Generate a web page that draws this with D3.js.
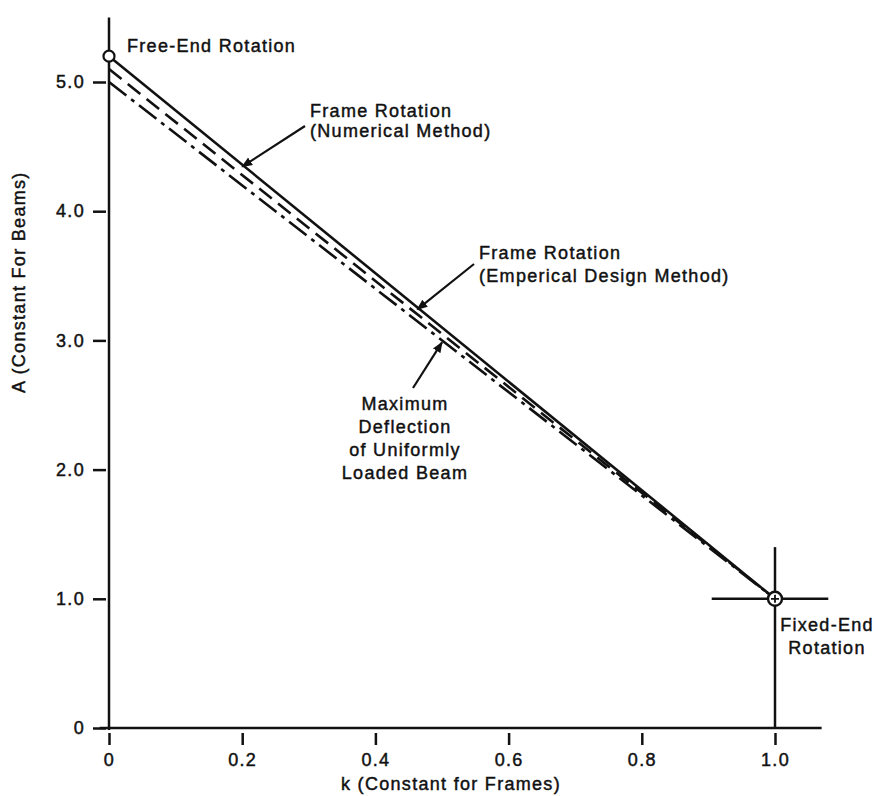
<!DOCTYPE html>
<html>
<head>
<meta charset="utf-8">
<script src="https://cdn.jsdelivr.net/npm/d3@7"></script>
<style>
  body { margin: 0; background: #fff; }
  svg text {
    font-family: "Liberation Sans", Arial, sans-serif;
    font-size: 18px;
    letter-spacing: 1.3px;
    fill: #111; stroke: #111; stroke-width: 0.45px;
  }
</style>
</head>
<body>
<svg id="chart" width="879" height="796"></svg>
<script>
// 刻度
const kTicks = [0, 0.2, 0.4, 0.6, 0.8, 1.0];
const kLabels = ["0", "0.2", "0.4", "0.6", "0.8", "1.0"];
const aTicks = [0, 1, 2, 3, 4, 5];
const aLabels = ["0", "1.0", "2.0", "3.0", "4.0", "5.0"];

// 三条直线: k = 0 与 k = 1 处的 A 值
const seriesK = [0, 1];
const numericalA = [5.2, 1.0];   // Frame Rotation (Numerical Method)
const empiricalA = [5.1, 1.0];   // Frame Rotation (Emperical Design Method)
const deflectionA = [5.0, 1.0];  // Maximum Deflection of Uniformly Loaded Beam

const freeEnd = { k: 0, a: 5.2 };
const fixedEnd = { k: 1.0, a: 1.0 };

const svg = d3.select("#chart");
const x = d3.scaleLinear().domain([0, 1]).range([109, 775]);
const y = d3.scaleLinear().domain([0, 5]).range([728, 82]);

const ink = "#111";

// 箭头
svg.append("defs").append("marker")
  .attr("id", "arrow")
  .attr("viewBox", "0 0 10 10")
  .attr("refX", 9).attr("refY", 5)
  .attr("markerWidth", 5).attr("markerHeight", 5)
  .attr("markerUnits", "strokeWidth")
  .attr("orient", "auto")
  .append("path")
  .attr("d", "M0,1 L10,5 L0,9 Z")
  .attr("fill", ink);

// 坐标轴线
svg.append("line")
  .attr("x1", x(0)).attr("x2", x(0))
  .attr("y1", y(5.5)).attr("y2", y(0) + 2)
  .attr("stroke", ink).attr("stroke-width", 2.5);
svg.append("line")
  .attr("x1", x(-0.014)).attr("x2", x(1.07))
  .attr("y1", y(0)).attr("y2", y(0))
  .attr("stroke", ink).attr("stroke-width", 2.5);

// Y 轴刻度
const yAxis = svg.append("g")
  .attr("transform", `translate(${x(0)},0)`)
  .call(d3.axisLeft(y).tickValues(aTicks).tickFormat((d, i) => aLabels[i])
    .tickSize(16).tickPadding(8));
yAxis.attr("font-size", null).attr("font-family", null);
yAxis.select(".domain").remove();
yAxis.selectAll(".tick line").attr("x2", -16).attr("x1", -3)
  .attr("stroke", ink).attr("stroke-width", 2.5);

// X 轴刻度
const xAxis = svg.append("g")
  .attr("transform", `translate(0,${y(0)})`)
  .call(d3.axisBottom(x).tickValues(kTicks).tickFormat((d, i) => kLabels[i])
    .tickSize(17).tickPadding(8));
xAxis.attr("font-size", null).attr("font-family", null);
xAxis.select(".domain").remove();
xAxis.selectAll(".tick line").attr("y1", 5).attr("y2", 17)
  .attr("stroke", ink).attr("stroke-width", 2.5);

// 轴标题
svg.append("text")
  .attr("x", 451).attr("y", 790)
  .attr("text-anchor", "middle")
  .text("k (Constant for Frames)");
svg.append("text")
  .attr("transform", `translate(25,${y(3.45)}) rotate(-90)`)
  .attr("text-anchor", "middle")
  .text("A (Constant For Beams)");

// 直线
const line = d3.line().x(d => x(d[0])).y(d => y(d[1]));
const series = [
  { vals: numericalA, dash: null },
  { vals: empiricalA, dash: "16,8" },
  { vals: deflectionA, dash: "22,6,4,6" }
];
series.forEach(s => {
  svg.append("path")
    .attr("d", line(seriesK.map((k, i) => [k, s.vals[i]])))
    .attr("fill", "none")
    .attr("stroke", ink)
    .attr("stroke-width", 2.6)
    .attr("stroke-dasharray", s.dash);
});

// 十字线 (固定端)
svg.append("line")
  .attr("x1", x(fixedEnd.k)).attr("x2", x(fixedEnd.k))
  .attr("y1", y(1.4)).attr("y2", y(0))
  .attr("stroke", ink).attr("stroke-width", 2.5);
svg.append("line")
  .attr("x1", x(0.905)).attr("x2", x(1.08))
  .attr("y1", y(fixedEnd.a)).attr("y2", y(fixedEnd.a))
  .attr("stroke", ink).attr("stroke-width", 2.5);

// 端点圆
svg.append("circle")
  .attr("cx", x(freeEnd.k)).attr("cy", y(freeEnd.a)).attr("r", 5.5)
  .attr("fill", "#fff").attr("stroke", ink).attr("stroke-width", 2.2);
svg.append("circle")
  .attr("cx", x(fixedEnd.k)).attr("cy", y(fixedEnd.a)).attr("r", 7)
  .attr("fill", "#fff").attr("stroke", ink).attr("stroke-width", 2.4);
svg.append("path")
  .attr("d", `M${x(1) - 4},${y(1)}H${x(1) + 4}M${x(1)},${y(1) - 4}V${y(1) + 4}`)
  .attr("stroke", ink).attr("stroke-width", 1.8);

// 注释文字
function label(lines, px, py, anchor, gap) {
  const t = svg.append("text").attr("text-anchor", anchor);
  lines.forEach((s, i) => {
    t.append("tspan").attr("x", px).attr("y", py + i * gap).text(s);
  });
}
function pointer(x0, y0, vals, k) {
  const a = d3.scaleLinear().domain(seriesK).range(vals)(k);
  svg.append("line")
    .attr("x1", x0).attr("y1", y0)
    .attr("x2", x(k)).attr("y2", y(a) + 2)
    .attr("stroke", ink).attr("stroke-width", 2.2)
    .attr("marker-end", "url(#arrow)");
}

label(["Free-End Rotation"], 127, 52, "start", 20);

label(["Frame Rotation", "(Numerical Method)"], 310, 117, "start", 20);
pointer(305, 126, numericalA, 0.2);

label(["Frame Rotation", "(Emperical Design Method)"], 479, 259, "start", 23);
pointer(474, 264, numericalA, 0.463);

label(["Maximum", "Deflection", "of Uniformly", "Loaded Beam"], 405, 410, "middle", 23);
pointer(413, 388, deflectionA, 0.5);

label(["Fixed-End", "Rotation"], 827, 631, "middle", 23);
</script>
</body>
</html>
